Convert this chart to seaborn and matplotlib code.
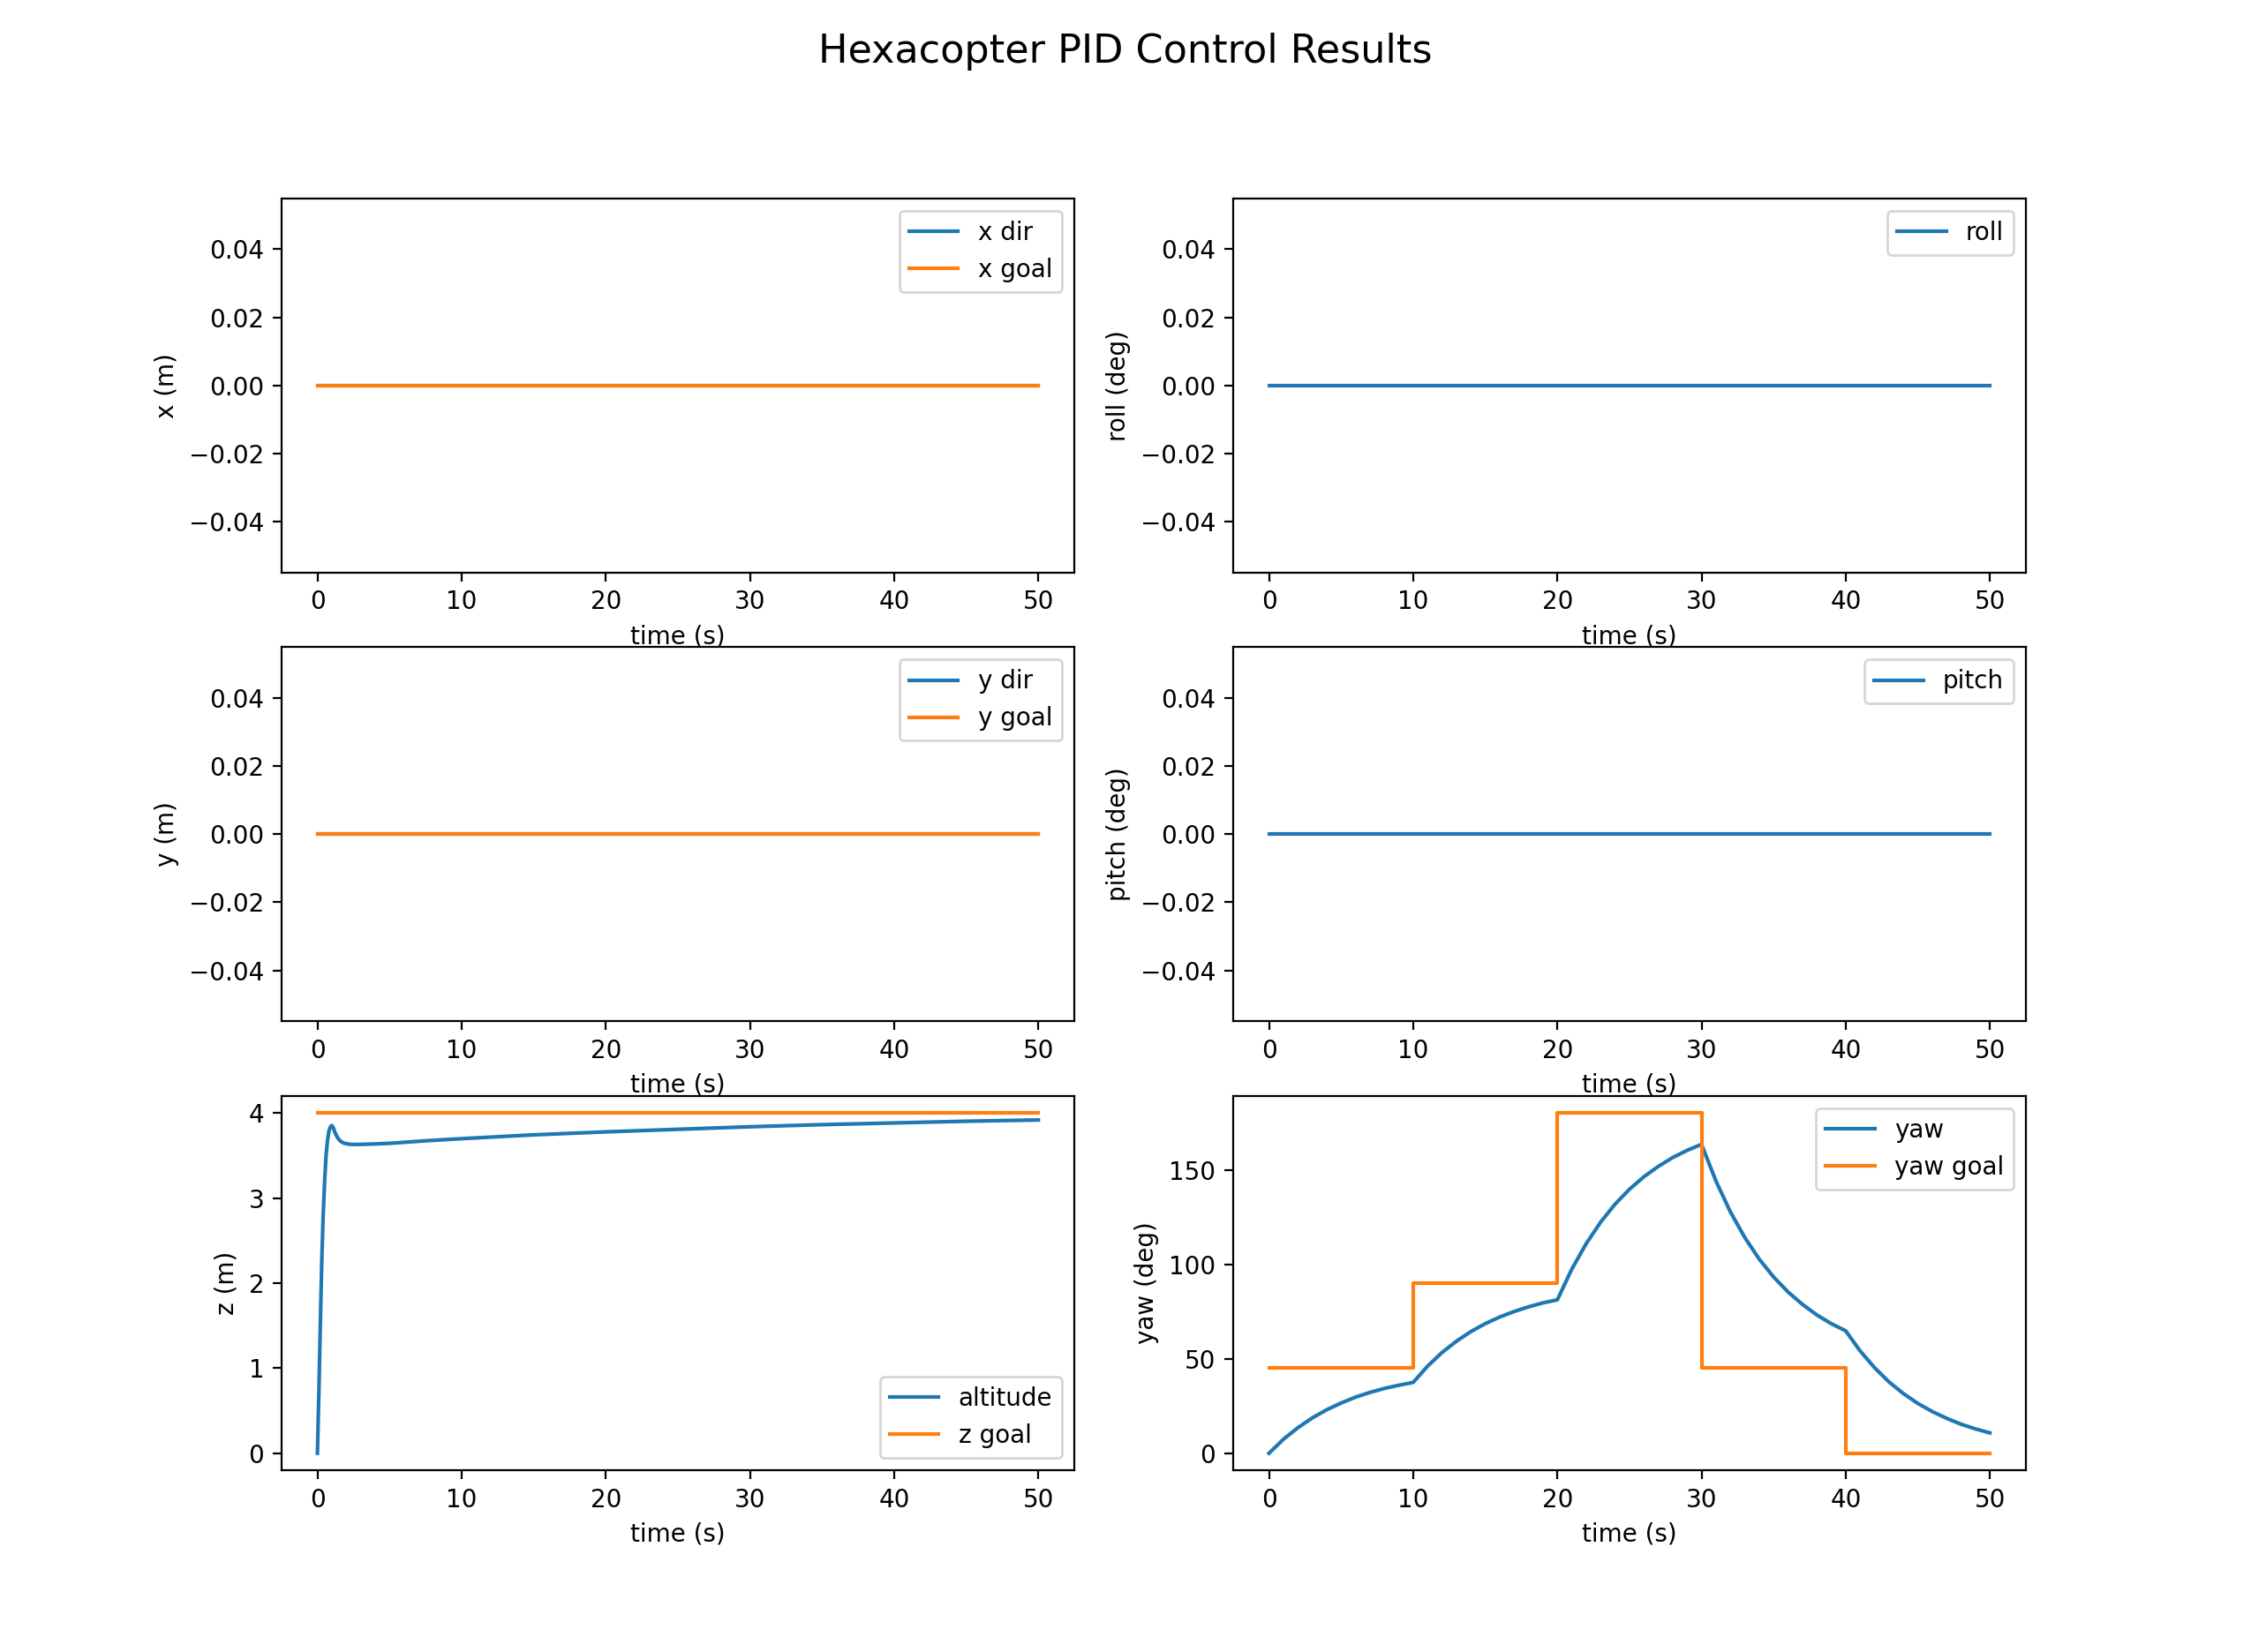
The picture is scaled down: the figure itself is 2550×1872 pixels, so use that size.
import matplotlib
matplotlib.use("Agg")
import matplotlib.pyplot as plt
import seaborn as sns

# ---- data ----
time_flat = [0, 10, 20, 30, 40, 50]
x_dir = [0, 0, 0, 0, 0, 0]
x_goal = [0, 0, 0, 0, 0, 0]
y_dir = [0, 0, 0, 0, 0, 0]
y_goal = [0, 0, 0, 0, 0, 0]
roll = [0, 0, 0, 0, 0, 0]
pitch = [0, 0, 0, 0, 0, 0]

z_time = [0, 0.1, 0.2, 0.3, 0.4, 0.5, 0.6, 0.7, 0.8, 0.9, 1.0, 1.1, 1.2, 1.4,
          1.6, 1.8, 2.0, 2.3, 2.6, 3, 4, 5, 7.5, 10, 15, 20, 25, 30, 35, 40, 45, 50]
altitude = [0, 0.7, 1.5, 2.25, 2.8, 3.2, 3.5, 3.68, 3.79, 3.84, 3.855, 3.83, 3.78,
            3.71, 3.67, 3.65, 3.64, 3.633, 3.632, 3.633, 3.638, 3.645, 3.675,
            3.70, 3.745, 3.78, 3.81, 3.84, 3.865, 3.885, 3.905, 3.92]
z_goal_time = [0, 50]
z_goal = [4, 4]

yaw_time = list(range(0, 51))
yaw = [0, 7.4, 13.5, 18.7, 23.0, 26.6, 29.7, 32.2, 34.3, 36.0, 37.5,
       46.1, 53.3, 59.3, 64.4, 68.6, 72.1, 75.0, 77.5, 79.6, 81.2,
       97.4, 110.9, 122.3, 131.8, 139.7, 146.3, 151.8, 156.5, 160.3, 163.5,
       144.1, 127.8, 114.2, 102.8, 93.3, 85.4, 78.8, 73.2, 68.6, 64.8,
       54.2, 45.3, 37.8, 31.6, 26.4, 22.1, 18.5, 15.4, 12.9, 10.8]
yaw_goal_time = [0, 10, 20, 30, 40, 50]
yaw_goal = [45, 90, 180, 45, 0, 0]

# ---- plotting ----
fig, axes = plt.subplots(3, 2, figsize=(12.75, 9.36), dpi=200)
fig.suptitle("Hexacopter PID Control Results", fontsize=16)

def line(ax, x, y, label, color, **kw):
    sns.lineplot(x=x, y=y, ax=ax, label=label, color=color, estimator=None,
                 sort=False, linewidth=1.5, **kw)

ax = axes[0, 0]
line(ax, time_flat, x_dir, "x dir", "C0")
line(ax, time_flat, x_goal, "x goal", "C1")
ax.set_ylabel("x (m)")
ax.legend(loc="upper right")

ax = axes[0, 1]
line(ax, time_flat, roll, "roll", "C0")
ax.set_ylabel("roll (deg)")
ax.legend(loc="upper right")

ax = axes[1, 0]
line(ax, time_flat, y_dir, "y dir", "C0")
line(ax, time_flat, y_goal, "y goal", "C1")
ax.set_ylabel("y (m)")
ax.legend(loc="upper right")

ax = axes[1, 1]
line(ax, time_flat, pitch, "pitch", "C0")
ax.set_ylabel("pitch (deg)")
ax.legend(loc="upper right")

ax = axes[2, 0]
line(ax, z_time, altitude, "altitude", "C0")
line(ax, z_goal_time, z_goal, "z goal", "C1")
ax.set_ylabel("z (m)")
ax.legend(loc="lower right")

ax = axes[2, 1]
line(ax, yaw_time, yaw, "yaw", "C0")
line(ax, yaw_goal_time, yaw_goal, "yaw goal", "C1", drawstyle="steps-post")
ax.set_ylabel("yaw (deg)")
ax.legend(loc="upper right")

for ax in axes.flat:
    ax.set_xlabel("time (s)")

fig.savefig("out.png", dpi=200)
